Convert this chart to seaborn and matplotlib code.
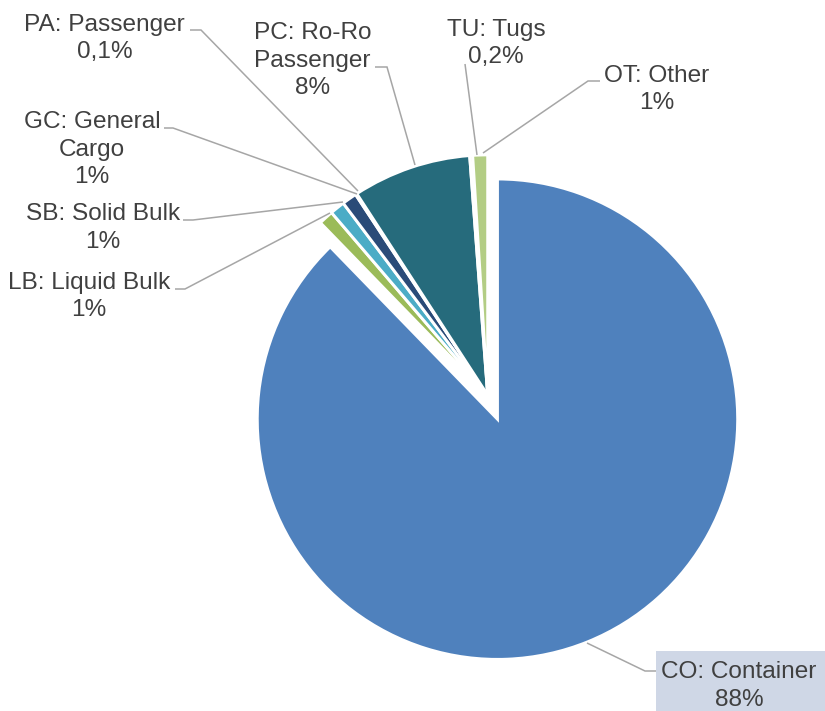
import matplotlib
matplotlib.use("Agg")
import matplotlib.pyplot as plt
from matplotlib.patches import Rectangle
import seaborn as sns

# Vessel categories and their share of the total (percent)
codes = ["CO", "LB", "SB", "GC", "PA", "PC", "TU", "OT"]
names = ["Container", "Liquid Bulk", "Solid Bulk", "General\nCargo",
         "Passenger", "Ro-Ro\nPassenger", "Tugs", "Other"]
shares = [88, 1, 1, 1, 0.1, 8, 0.2, 1]
colors = ["#4F81BD", "#9BBB59", "#4BACC6", "#2A4B78",
          "#8064A2", "#266B7C", "#F79646", "#B3CD84"]

sns.set_theme(style="white")
plt.rcParams["font.family"] = ["Liberation Sans", "DejaVu Sans"]

W, H = 825, 711
fig = plt.figure(figsize=(W / 100, H / 100), dpi=100)
ax = fig.add_axes([0, 0, 1, 1])


def Y(y):
    """Convert a top-down pixel row into the axes' bottom-up coordinate."""
    return H - y


explode = [26 if c == "CO" else 0 for c in codes]
wedges, _ = ax.pie(
    shares,
    colors=sns.color_palette(colors),
    startangle=90,
    counterclock=False,
    explode=explode,
    center=(487.7, Y(395.1)),
    radius=240.2,
    wedgeprops=dict(edgecolor="white", linewidth=2.1),
)
ax.set_xlim(0, W)
ax.set_ylim(0, H)
ax.set_aspect("equal")
ax.axis("off")


def pct(v):
    if v >= 1:
        return f"{v:.0f}%"
    return f"{v:.1f}%".replace(".", ",")


# label anchor: (centre x, first baseline y) and leader line path
label_pos = {
    "CO": (739, 678),
    "LB": (89, 289),
    "SB": (103, 220),
    "GC": (92, 128.3),
    "PA": (104.5, 30.7),
    "PC": (312.5, 39.3),
    "TU": (496, 36),
    "OT": (657, 81.7),
}
leaders = {
    "CO": [(656, 671), (645, 671), (587, 643)],
    "LB": [(175, 289), (185, 289), (330, 213)],
    "SB": [(183, 220), (193, 220), (343, 202)],
    "GC": [(164, 128), (173, 128), (357, 194)],
    "PA": [(190, 30), (201, 30), (358, 191)],
    "PC": [(375, 67), (387, 67), (415, 165)],
    "TU": [(465, 64), (477, 155)],
    "OT": [(600, 81), (588, 81), (483, 153)],
}

# highlighted box behind the container label
ax.add_patch(Rectangle((656, Y(711) - 10), 200, (711 - 651) + 10,
                       facecolor="#CFD7E6", edgecolor="none", zorder=3))

line_gap = 27.5
for code, name, val in zip(codes, names, shares):
    xs = [p[0] for p in leaders[code]]
    ys = [Y(p[1]) for p in leaders[code]]
    ax.plot(xs, ys, color="#A6A6A6", lw=1.1, zorder=2,
            solid_joinstyle="miter", solid_capstyle="butt")
    lines = f"{code}: {name}".split("\n") + [pct(val)]
    x0, y0 = label_pos[code]
    for i, txt in enumerate(lines):
        ax.text(x0, Y(y0 + i * line_gap), txt, ha="center", va="baseline",
                fontsize=17.6, color="#404040", zorder=4)

fig.savefig("out.png", dpi=100)
